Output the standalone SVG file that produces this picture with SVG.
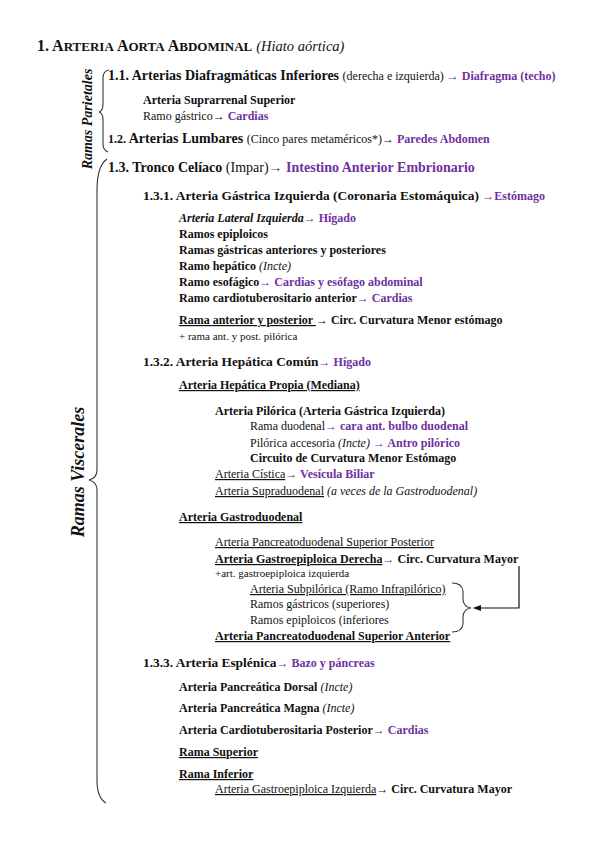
<svg xmlns="http://www.w3.org/2000/svg" width="599" height="848" viewBox="0 0 599 848">
<style>
text{font-family:"Liberation Serif","Times New Roman",serif;fill:#111;}
.b{font-weight:bold;}
.i{font-style:italic;}
.p{fill:#7030a0;font-weight:bold;}
.u{text-decoration:underline;}
.s11{font-size:12px;}
.s12{font-size:13.4px;}
.s13{font-size:14px;}
.s9{font-size:11px;}
.br{fill:none;stroke:#333;stroke-width:1.1;}
</style>
<defs>
<marker id="ah" markerWidth="8" markerHeight="6" refX="7" refY="3" orient="auto" markerUnits="userSpaceOnUse">
<path d="M0,0 L8,3 L0,6 z" fill="#111"/>
</marker>
</defs>
<rect width="599" height="848" fill="#fff"/>

<g id="title">
<text x="37" y="51" class="b" font-size="16">1. A<tspan font-size="13">RTERIA</tspan> A<tspan font-size="13">ORTA</tspan> A<tspan font-size="13">BDOMINAL</tspan> <tspan class="i" font-weight="normal" font-size="14.5">(Hiato aórtica)</tspan></text>
</g>

<g id="labels">
<text class="b i" font-size="14" transform="translate(92,119) rotate(-90)" text-anchor="middle">Ramas Parietales</text>
<text class="b i" font-size="18" transform="translate(84,472) rotate(-90)" text-anchor="middle">Ramas Viscerales</text>
</g>

<g id="braces">
<path class="br" d="M109,70 Q103,71 103,78 L103,104 Q103,111 99,112 Q103,113 103,120 L103,144 Q103,150 108,152"/>
<path class="br" d="M107,159 Q97,166 97,190 L97,470 Q97,478 89,480 Q97,482 97,490 L97,780 Q97,798 106,803"/>
</g>

<g id="parietales">
<text x="108" y="80" class="b s13">1.1. Arterias Diafragmáticas Inferiores <tspan class="s11" font-weight="normal">(derecha e izquierda) </tspan><tspan class="p s11">→ Diafragma (techo)</tspan></text>
<text x="143" y="104" class="b s11">Arteria Suprarrenal Superior</text>
<text x="143" y="120" class="s11">Ramo gástrico→ <tspan class="p">Cardias</tspan></text>
<text x="108" y="143" class="b s13"><tspan class="s11">1.2.</tspan> Arterias Lumbares <tspan class="s11" font-weight="normal">(Cinco pares metaméricos*)</tspan><tspan class="s11">→ </tspan><tspan class="p s11">Paredes Abdomen</tspan></text>
</g>

<g id="tronco">
<text x="108" y="172" class="b s13">1.3. Tronco Celíaco <tspan font-weight="normal">(Impar)</tspan><tspan class="p">→ </tspan><tspan class="p">Intestino Anterior Embrionario</tspan></text>
</g>

<g id="gastrica">
<text x="143" y="200" class="b s12">1.3.1. Arteria Gástrica Izquierda (Coronaria Estomáquica) <tspan class="p" font-size="12">→Estómago</tspan></text>
<text x="179" y="222" class="b i s11">Arteria Lateral Izquierda<tspan class="p" font-style="normal">→ Hígado</tspan></text>
<text x="179" y="238" class="b s11">Ramos epiploicos</text>
<text x="179" y="254" class="b s11">Ramas gástricas anteriores y posteriores</text>
<text x="179" y="270" class="b s11">Ramo hepático <tspan class="i" font-weight="normal">(Incte)</tspan></text>
<text x="179" y="286" class="b s11">Ramo esofágico<tspan class="p">→ Cardias y esófago abdominal</tspan></text>
<text x="179" y="302" class="b s11">Ramo cardiotuberositario anterior<tspan class="p">→ Cardias</tspan></text>
<text x="179" y="324" class="b s11"><tspan class="u">Rama anterior y posterior </tspan>→ Circ. Curvatura Menor estómago</text>
<text x="179" y="340" class="s9">+ rama ant. y post. pilórica</text>
</g>

<g id="hepatica">
<text x="143" y="366" class="b s12">1.3.2. Arteria Hepática Común<tspan class="p" font-size="12">→ Hígado</tspan></text>
<text x="179" y="389" class="b s11 u">Arteria Hepática Propia (Mediana)</text>
<text x="215" y="415" class="b s11">Arteria Pilórica (Arteria Gástrica Izquierda)</text>
<text x="250" y="430" class="s11">Rama duodenal<tspan class="p">→ cara ant. bulbo duodenal</tspan></text>
<text x="250" y="447" class="s11">Pilórica accesoria <tspan class="i">(Incte)</tspan> <tspan class="p">→ Antro pilórico</tspan></text>
<text x="250" y="462" class="b s11">Circuito de Curvatura Menor Estómago</text>
<text x="215" y="478" class="s11"><tspan class="u">Arteria Cística</tspan><tspan class="p">→ Vesícula Biliar</tspan></text>
<text x="215" y="495" class="s11"><tspan class="u">Arteria Supraduodenal</tspan> <tspan class="i">(a veces de la Gastroduodenal)</tspan></text>
<text x="179" y="521" class="b s11 u">Arteria Gastroduodenal</text>
<text x="215" y="546" class="s11 u">Arteria Pancreatoduodenal Superior Posterior</text>
<text x="215" y="563" class="b s11"><tspan class="u">Arteria Gastroepiploica Derecha</tspan><tspan class="p">→ </tspan>Circ. Curvatura Mayor</text>
<text x="215" y="577" class="s9">+art. gastroepiploica izquierda</text>
<text x="250" y="593" class="s11 u">Arteria Subpilórica (Ramo Infrapilórico)</text>
<text x="250" y="608" class="s11">Ramos gástricos (superiores)</text>
<text x="250" y="624" class="s11">Ramos epiploicos (inferiores</text>
<text x="215" y="640" class="b s11 u">Arteria Pancreatoduodenal Superior Anterior</text>
</g>

<g id="esplenica">
<text x="143" y="667" class="b s12">1.3.3. Arteria Esplénica<tspan class="p" font-size="12">→ Bazo y páncreas</tspan></text>
<text x="179" y="691" class="b s11">Arteria Pancreática Dorsal <tspan class="i" font-weight="normal">(Incte)</tspan></text>
<text x="179" y="712" class="b s11">Arteria Pancreática Magna <tspan class="i" font-weight="normal">(Incte)</tspan></text>
<text x="179" y="734" class="b s11">Arteria Cardiotuberositaria Posterior<tspan class="p">→ Cardias</tspan></text>
<text x="179" y="756" class="b s11 u">Rama Superior</text>
<text x="179" y="778" class="b s11 u">Rama Inferior</text>
<text x="215" y="793" class="s11"><tspan class="u">Arteria Gastroepiploica Izquierda</tspan>→ <tspan class="b">Circ. Curvatura Mayor</tspan></text>
</g>

<g id="connectors">
<path class="br" d="M452,583 Q462,583 463,591 L463,600 Q464,607 471,608 Q464,609 463,616 L463,624 Q462,632 452,632"/>
<path d="M519,566 L519,608 L474,608" fill="none" stroke="#111" stroke-width="1.2" marker-end="url(#ah)"/>
</g>
</svg>
